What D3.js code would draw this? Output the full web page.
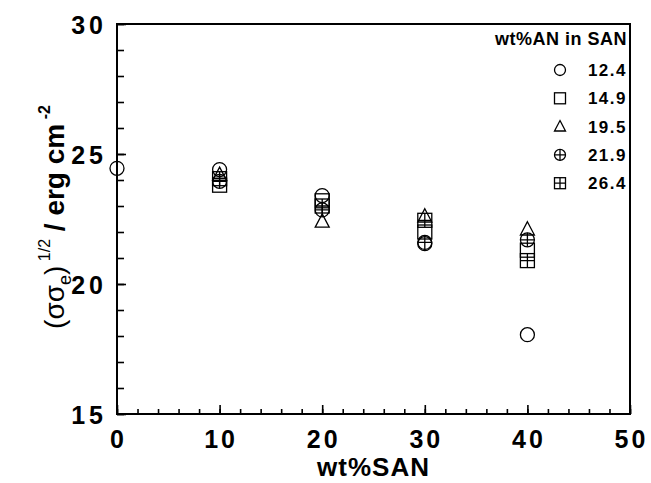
<!DOCTYPE html>
<html>
<head>
<meta charset="utf-8">
<script src="https://cdn.jsdelivr.net/npm/d3@7"></script>
<style>
  body { margin: 0; background: #fff; }
  text { font-family: "Liberation Sans", Arial, sans-serif; font-weight: bold; fill: #000; }
</style>
</head>
<body>
<svg id="chart" width="651" height="483"></svg>
<script>
// data
var anLabels = ["12.4", "14.9", "19.5", "21.9", "26.4"];
var symbols = ["circle", "square", "triangle", "circleplus", "squareplus"];
var xTicks = [0, 10, 20, 30, 40, 50];
var yTicks = [15, 20, 25, 30];
var s124 = [[0, 24.45], [10, 24.4], [20, 23.4], [30, 21.55], [40, 18.05]];
var s149 = [[10, 23.8], [20, 23.2], [30, 22.0], [40, 21.3]];
var s195 = [[10, 24.2], [20, 22.4], [30, 22.6], [40, 22.1]];
var s219 = [[10, 23.95], [20, 22.85], [30, 21.6], [40, 21.7]];
var s264 = [[10, 24.05], [20, 23.0], [30, 22.45], [40, 20.9]];
var seriesList = [s124, s149, s195, s219, s264];

var svg = d3.select("#chart"),
    margin = {top: 24, right: 21, bottom: 69, left: 117},
    width = +svg.attr("width") - margin.left - margin.right,
    height = +svg.attr("height") - margin.top - margin.bottom,
    g = svg.append("g").attr("transform", "translate(" + margin.left + "," + margin.top + ")");

var x = d3.scaleLinear().domain([0, 50]).range([0, width]);
var y = d3.scaleLinear().domain([15, 30]).range([height, 0]);

// inward ticks
var xAxis = d3.axisBottom(x).tickValues(xTicks).tickSize(-9).tickPadding(0).tickFormat(d3.format("d"));
var xMinor = d3.axisBottom(x).tickValues(d3.range(0, 51, 2)).tickSize(-5).tickFormat("");
var yAxis = d3.axisLeft(y).tickValues(yTicks).tickSize(-9).tickPadding(0).tickFormat(d3.format("d"));
var yMinor = d3.axisLeft(y).tickValues(d3.range(15, 31, 1)).tickSize(-7).tickFormat("");

function styleAxis(a, ls) {
  a.select(".domain").remove();
  a.selectAll(".tick line").attr("stroke", "#000").attr("stroke-width", 1.6);
  a.selectAll(".tick text").attr("font-size", 25)
    .style("font-family", "Liberation Sans, Arial, sans-serif")
    .style("font-weight", "bold").style("letter-spacing", (ls || 0) + "px");
}

g.append("g").attr("transform", "translate(0," + height + ")").call(xMinor).call(styleAxis);
g.append("g").attr("transform", "translate(0," + height + ")").call(xAxis).call(styleAxis, 3)
  .selectAll(".tick text").attr("y", 34).attr("dy", null).attr("dx", "1px");
g.append("g").call(yMinor).call(styleAxis);
g.append("g").call(yAxis).call(styleAxis, 4)
  .selectAll(".tick text").attr("x", -10).attr("dy", "0.36em");

// frame
g.append("rect").attr("width", width).attr("height", height)
  .attr("fill", "none").attr("stroke", "#000").attr("stroke-width", 2);

// markers
function drawSymbol(sel, type, r) {
  var st = {fill: "none", stroke: "#000", "stroke-width": 1.3};
  function ap(tag) { var e = sel.append(tag); for (var k in st) e.attr(k, st[k]); return e; }
  if (type === "circle") {
    ap("circle").attr("r", r);
  } else if (type === "square") {
    ap("rect").attr("x", -r).attr("y", -r).attr("width", 2 * r).attr("height", 2 * r);
  } else if (type === "triangle") {
    ap("path").attr("d", "M0," + (-r * 1.1) + "L" + r + "," + (r * 0.8) + "L" + (-r) + "," + (r * 0.8) + "Z");
  } else if (type === "circleplus") {
    ap("circle").attr("r", r);
    ap("path").attr("d", "M" + (-r) + ",0H" + r + "M0," + (-r) + "V" + r);
  } else if (type === "squareplus") {
    ap("rect").attr("x", -r).attr("y", -r).attr("width", 2 * r).attr("height", 2 * r);
    ap("path").attr("d", "M" + (-r) + ",0H" + r + "M0," + (-r) + "V" + r);
  }
}

seriesList.forEach(function(data, i) {
  g.selectAll(".pt" + i).data(data).enter().append("g")
    .attr("class", "pt" + i)
    .attr("transform", function(d) { return "translate(" + x(d[0]) + "," + y(d[1]) + ")"; })
    .each(function() { drawSymbol(d3.select(this), symbols[i], 7); });
});

// legend
var lg = g.append("g").attr("transform", "translate(" + (width - 3) + ",0)");
lg.append("text").attr("x", 0).attr("y", 21).attr("text-anchor", "end")
  .attr("font-size", 18).style("letter-spacing", "0.5px").text("wt%AN in SAN");
anLabels.forEach(function(lab, i) {
  var yy = 46 + i * 28.3;
  var sg = lg.append("g").attr("transform", "translate(-67," + yy + ")");
  drawSymbol(sg, symbols[i], 5.5);
  lg.append("text").attr("x", 0).attr("y", yy).attr("dy", "0.35em").attr("text-anchor", "end")
    .attr("font-size", 17).style("letter-spacing", "1.5px").text(lab);
});

// axis titles
svg.append("text").attr("x", margin.left + width / 2).attr("y", 476).attr("text-anchor", "middle")
  .attr("font-size", 26).style("letter-spacing", "1px").text("wt%SAN");

var yl = svg.append("text").attr("transform", "translate(64," + (margin.top + height / 2 - 2) + ") rotate(-90)")
  .attr("text-anchor", "middle").attr("font-size", 28);
yl.append("tspan").style("font-weight", "normal").text("(σσ");
yl.append("tspan").attr("font-size", 18).attr("dy", 7).style("font-weight", "normal").text("e");
yl.append("tspan").attr("dy", -7).style("font-weight", "normal").text(")");
yl.append("tspan").attr("font-size", 16).attr("dy", -14).style("font-weight", "normal").text(" 1/2");
yl.append("tspan").attr("dy", 14).text("   / erg cm");
yl.append("tspan").attr("font-size", 16).attr("dy", -14).text(" -2");
</script>
</body>
</html>
